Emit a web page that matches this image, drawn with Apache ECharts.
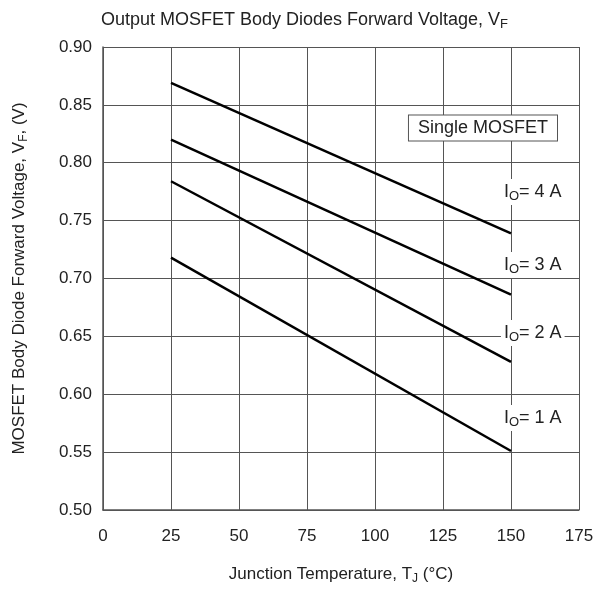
<!DOCTYPE html>
<html>
<head>
<meta charset="utf-8">
<script src="https://cdn.jsdelivr.net/npm/echarts@6/dist/echarts.min.js"></script>
<style>
  html, body { margin: 0; padding: 0; background: #fff; }
  #chart { width: 609px; height: 590px; }
</style>
</head>
<body>
<div id="chart"></div>
<script>
  // 数据
  var temps = [25, 150]
  var vf1A = [0.718, 0.551]
  var vf2A = [0.784, 0.628]
  var vf3A = [0.820, 0.686]
  var vf4A = [0.869, 0.739]
  var currents = ['1', '2', '3', '4']
  // label anchor (data coords)
  var labelX = [158, 158, 158, 158]
  var labelY = [0.5795, 0.653, 0.7117, 0.7747]
  var xTicks = [0, 25, 50, 75, 100, 125, 150, 175]

  var font = 'Liberation Sans, Arial, sans-serif'
  var textColor = '#222'
  var gridColor = '#555'

  function pairs(ys) {
    return temps.map(function (t, i) { return [t, ys[i]] })
  }

  function makeRich(size, lh) {
    return {
      a: { fontSize: size, color: textColor, fontFamily: font, lineHeight: lh },
      sub: { fontSize: Math.round(size * 0.72), color: textColor, fontFamily: font, padding: [Math.round(size * 0.5), 0, 0, 0], lineHeight: lh }
    }
  }

  function lineSeries(ys, idx) {
    return {
      type: 'line',
      data: pairs(ys),
      symbol: 'none',
      lineStyle: { color: '#000', width: 2.5 },
      z: 3,
      markPoint: {
        symbol: 'rect',
        symbolSize: 0,
        data: [{ coord: [labelX[idx], labelY[idx]] }],
        label: {
          show: true,
          position: 'inside',
          formatter: '{a|I}{sub|O}{a|= ' + currents[idx] + ' A}',
          backgroundColor: '#fff',
          padding: [0, 3, 0, 3],
          rich: makeRich(18, 26)
        }
      }
    }
  }

  var chart = echarts.init(document.getElementById('chart'))
  var option = {
    backgroundColor: '#fff',
    animation: false,
    title: {
      text: '{a|Output MOSFET Body Diodes Forward Voltage, V}{sub|F}',
      left: 'center',
      top: 2,
      textStyle: { fontWeight: 'normal', rich: makeRich(18, 26) }
    },
    grid: { left: 103, right: 30, top: 47, bottom: 80, containLabel: false },
    xAxis: {
      type: 'value',
      min: 0,
      max: 175,
      interval: 25,
      name: '{a|Junction Temperature, T}{sub|J}{a| (°C)}',
      nameLocation: 'middle',
      nameGap: 52,
      nameTextStyle: { rich: makeRich(17, 24) },
      axisLine: { show: true, lineStyle: { color: gridColor, width: 1.5 } },
      axisTick: { show: false },
      axisLabel: { color: textColor, fontSize: 17, fontFamily: font, margin: 18,
        formatter: function (v) { return xTicks.indexOf(v) >= 0 ? String(v) : '' } },
      splitLine: { show: true, lineStyle: { color: gridColor, width: 1 } }
    },
    yAxis: {
      type: 'value',
      min: 0.5,
      max: 0.9,
      interval: 0.05,
      name: '{a|MOSFET Body Diode Forward Voltage, V}{sub|F}{a|, (V)}',
      nameLocation: 'middle',
      nameGap: 72,
      nameTextStyle: { rich: makeRich(17, 24) },
      axisLine: { show: true, lineStyle: { color: gridColor, width: 1.5 } },
      axisTick: { show: false },
      axisLabel: { color: textColor, fontSize: 17, fontFamily: font, margin: 11,
        formatter: function (v) { return v.toFixed(2) } },
      splitLine: { show: true, lineStyle: { color: gridColor, width: 1 } }
    },
    series: [
      lineSeries(vf1A, 0),
      lineSeries(vf2A, 1),
      lineSeries(vf3A, 2),
      lineSeries(vf4A, 3),
      {
        type: 'line',
        data: [],
        markPoint: {
          symbol: 'rect',
          symbolSize: 0,
          data: [{ coord: [139.7, 0.830] }],
          label: {
            show: true,
            position: 'inside',
            formatter: 'Single MOSFET',
            color: textColor,
            fontSize: 18,
            fontFamily: font,
            backgroundColor: '#fff',
            borderColor: '#555',
            borderWidth: 1,
            padding: [4, 9, 3, 9]
          }
        }
      }
    ]
  }
  chart.setOption(option)
</script>
</body>
</html>
